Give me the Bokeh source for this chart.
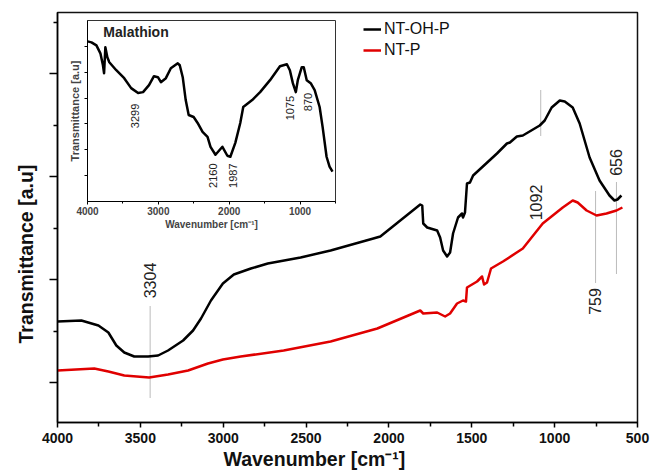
import math
from bokeh.plotting import figure
from bokeh.layouts import column
from bokeh.models import Range1d, FixedTicker, Legend, LegendItem, ColumnDataSource, Label, Title
from bokeh.core.properties import value
from bokeh.embed import file_html
from bokeh.resources import INLINE

FONT = "Liberation Sans"

# ---- main spectra (wavenumber cm-1, transmittance a.u.) ----
wn_ntohp = [4000, 3856, 3753, 3693, 3645, 3597, 3537, 3453, 3393, 3333, 3242, 3182, 3134, 3074,
            3002, 2936, 2833, 2731, 2533, 2352, 2094, 2052, 1811, 1799, 1793, 1769, 1709, 1691,
            1673, 1649, 1631, 1613, 1583, 1559, 1553, 1541, 1529, 1511, 1492, 1348, 1288, 1270,
            1228, 1192, 1090, 1060, 1018, 969, 939, 891, 849, 789, 729, 669, 639, 621, 597]
tr_ntohp = [101, 102, 97, 90, 77, 70, 66, 66, 67, 72, 82, 92, 104, 122,
            139, 148, 154, 159, 165, 172, 184, 186, 218, 217, 199, 195, 192, 185,
            172, 166, 170, 189, 205, 209, 205, 210, 239, 240, 247, 269, 279, 280,
            286, 287, 297, 302, 315, 322, 321, 315, 299, 265, 242, 227, 222, 223, 227]

wn_ntp = [4000, 3778, 3693, 3597, 3447, 3333, 3212, 3092, 3002, 2894, 2635, 2352, 2070, 1811,
          1793, 1709, 1661, 1631, 1589, 1553, 1535, 1529, 1468, 1438, 1426, 1408, 1384, 1312,
          1192, 1072, 951, 891, 861, 807, 747, 687, 627, 591]
tr_ntp = [52, 54, 51, 47, 45, 48, 52, 59, 63, 66, 72, 81, 94, 112,
          109, 110, 106, 109, 119, 122, 121, 135, 141, 146, 138, 140, 154, 161,
          174, 199, 215, 222, 220, 212, 207, 209, 212, 215]

series_names = ["NT-OH-P", "NT-P"]
series_colors = ["#000000", "#e00000"]

# peak annotations on the main plot
peak_labels = ["3304", "1092", "759", "656"]
peak_label_x = [3441, 1114, 759, 627]
peak_label_y = [142, 220, 121, 260]
peak_line_x = [3441, 1084, 753, 627]
peak_line_y0 = [25, 287, 140, 149]
peak_line_y1 = [116, 333, 232, 240]

x_major = [4000, 3500, 3000, 2500, 2000, 1500, 1000, 500]
x_minor = [3750, 3250, 2750, 2250, 1750, 1250, 750]
y_major = [40, 143, 246, 349]
y_minor = [91.5, 194.5, 297.5, 400.5]

x_title = "Wavenumber [cm\u207b\u00b9]"
y_title = "Transmittance [a.u]"

# ---- inset: Malathion ----
wn_mal = [4000, 3944, 3874, 3818, 3782, 3766, 3748, 3720, 3692, 3594, 3482, 3384, 3286, 3216,
          3132, 3062, 3006, 2964, 2894, 2824, 2726, 2698, 2656, 2614, 2572, 2502, 2446, 2376,
          2306, 2264, 2194, 2096, 2026, 1984, 1914, 1844, 1802, 1676, 1564, 1424, 1284, 1186,
          1144, 1102, 1060, 1032, 976, 948, 906, 850, 794, 724, 682, 626, 584, 542]
tr_mal = [161, 160, 157, 149, 137, 129, 155, 145, 140, 132, 124, 114, 109, 110,
          117, 126, 125, 120, 124, 134, 139, 137, 125, 102, 87, 85, 79, 70,
          65, 55, 47, 55, 46, 45, 59, 79, 95, 102, 110, 122, 136, 138,
          132, 119, 110, 122, 135, 135, 122, 119, 112, 95, 75, 45, 35, 30]

mal_labels = ["3299", "2160", "1987", "1075", "870"]
mal_label_x = [3328, 2222, 1942, 1144, 892]
mal_label_y = [86, 26, 26, 94, 100]

inset_x_major = [4000, 3000, 2000, 1000]
inset_x_minor = [3500, 2500, 1500, 500]
inset_y_major = [26, 52, 78, 104, 130, 156]

# ================= main figure =================
p = figure(width=651, height=472, x_range=Range1d(4000, 500), y_range=Range1d(0, 410),
           output_backend="svg", toolbar_location=None,
           min_border_left=56, min_border_right=14, min_border_top=12, min_border_bottom=50)
p.background_fill_color = "white"
p.border_fill_color = "white"
p.xgrid.visible = False
p.ygrid.visible = False
p.outline_line_color = "#111111"
p.outline_line_width = 1.5

p.xaxis.ticker = FixedTicker(ticks=x_major, minor_ticks=x_minor)
p.xaxis.major_label_text_font = FONT
p.xaxis.major_label_text_font_style = "bold"
p.xaxis.major_label_text_font_size = "14px"
p.xaxis.major_label_text_color = "#111111"
p.xaxis.major_label_standoff = 5
p.xaxis.major_tick_out = 5
p.xaxis.major_tick_in = 0
p.xaxis.minor_tick_out = 4
p.xaxis.minor_tick_in = 0
p.xaxis.axis_line_width = 1.5
p.xaxis.major_tick_line_width = 1.5
p.xaxis.minor_tick_line_width = 1.5

p.yaxis.ticker = FixedTicker(ticks=y_major, minor_ticks=y_minor)
p.yaxis.major_label_text_font_size = "0px"
p.yaxis.major_label_standoff = 0
p.yaxis.major_tick_out = 8
p.yaxis.major_tick_in = 0
p.yaxis.minor_tick_out = 4
p.yaxis.minor_tick_in = 0
p.yaxis.axis_line_width = 1.5
p.yaxis.major_tick_line_width = 1.5
p.yaxis.minor_tick_line_width = 1.5

# axis titles (placed off-centre as in the reference) as side titles
p.add_layout(Title(text=x_title, align="left", offset=166, standoff=0,
                   text_font=FONT, text_font_style="bold", text_font_size="19.5px",
                   text_color="#111111"), "below")
p.add_layout(Title(text=y_title, align="left", offset=79, standoff=25,
                   text_font=FONT, text_font_style="bold", text_font_size="19.5px",
                   text_color="#111111"), "left")

seg_src = ColumnDataSource(dict(x=peak_line_x, y0=peak_line_y0, y1=peak_line_y1))
p.segment(x0="x", y0="y0", x1="x", y1="y1", source=seg_src,
          line_color="#777777", line_width=1, line_dash="1 1")

r1 = p.line(wn_ntohp, tr_ntohp, line_color=series_colors[0], line_width=2.5, line_join="round")
r2 = p.line(wn_ntp, tr_ntp, line_color=series_colors[1], line_width=2.5, line_join="round")

lab_src = ColumnDataSource(dict(x=peak_label_x, y=peak_label_y, t=peak_labels))
p.text(x="x", y="y", text="t", source=lab_src, angle=math.pi / 2,
       text_align="center", text_baseline="middle",
       text_font=value(FONT), text_font_size="16px", text_color="#222222")

legend = Legend(items=[LegendItem(label=series_names[0], renderers=[r1]),
                       LegendItem(label=series_names[1], renderers=[r2])],
                location=(306, 362), border_line_color=None, background_fill_alpha=0,
                padding=0, margin=0, spacing=1, glyph_width=18, glyph_height=20,
                label_height=20, label_standoff=3,
                label_text_font=FONT, label_text_font_size="16px", label_text_color="#111111")
p.add_layout(legend)

# ================= inset figure =================
# (in a column Bokeh aligns plot frames, so the inset shares the main plot's side borders)
ins = figure(width=319, height=218, x_range=Range1d(4000, 500), y_range=Range1d(0, 182),
             output_backend="svg", toolbar_location=None,
             min_border_left=56, min_border_right=14, min_border_top=6, min_border_bottom=30,
             styles={"position": "absolute", "left": "30px", "top": "14px"})
ins.background_fill_color = "white"
ins.border_fill_color = "white"
ins.border_fill_alpha = 0
ins.xgrid.visible = False
ins.ygrid.visible = False
ins.outline_line_color = "#333333"
ins.outline_line_width = 1

ins.xaxis.ticker = FixedTicker(ticks=inset_x_major, minor_ticks=inset_x_minor)
ins.xaxis.axis_label = x_title
ins.xaxis.axis_label_text_font = FONT
ins.xaxis.axis_label_text_font_style = "bold"
ins.xaxis.axis_label_text_font_size = "10px"
ins.xaxis.axis_label_standoff = 1
ins.xaxis.major_label_text_font = FONT
ins.xaxis.major_label_text_font_style = "bold"
ins.xaxis.major_label_text_font_size = "10px"
ins.xaxis.major_label_standoff = 2
ins.xaxis.major_tick_out = 3
ins.xaxis.major_tick_in = 0
ins.xaxis.minor_tick_out = 2
ins.xaxis.minor_tick_in = 0

ins.yaxis.ticker = FixedTicker(ticks=inset_y_major, minor_ticks=[])
ins.yaxis.axis_label = y_title
ins.yaxis.axis_label_text_font = FONT
ins.yaxis.axis_label_text_font_style = "bold"
ins.yaxis.axis_label_text_font_size = "11px"
ins.yaxis.axis_label_standoff = 4
ins.yaxis.major_label_text_font_size = "0px"
ins.yaxis.major_label_standoff = 0
ins.yaxis.major_tick_out = 3
ins.yaxis.major_tick_in = 0

ins.line(wn_mal, tr_mal, line_color="black", line_width=2.5, line_join="round")

mal_src = ColumnDataSource(dict(x=mal_label_x, y=mal_label_y, t=mal_labels))
ins.text(x="x", y="y", text="t", source=mal_src, angle=math.pi / 2,
         text_align="center", text_baseline="middle",
         text_font=value(FONT), text_font_size="11px", text_color="#222222")

ins.add_layout(Label(x=3776, y=170, text="Malathion", text_font=FONT, text_font_style="bold",
                     text_font_size="14px", text_baseline="middle", text_align="left",
                     text_color="#222222"))

layout = column(p, ins)
open("out.html", "w").write(file_html(layout, INLINE))
